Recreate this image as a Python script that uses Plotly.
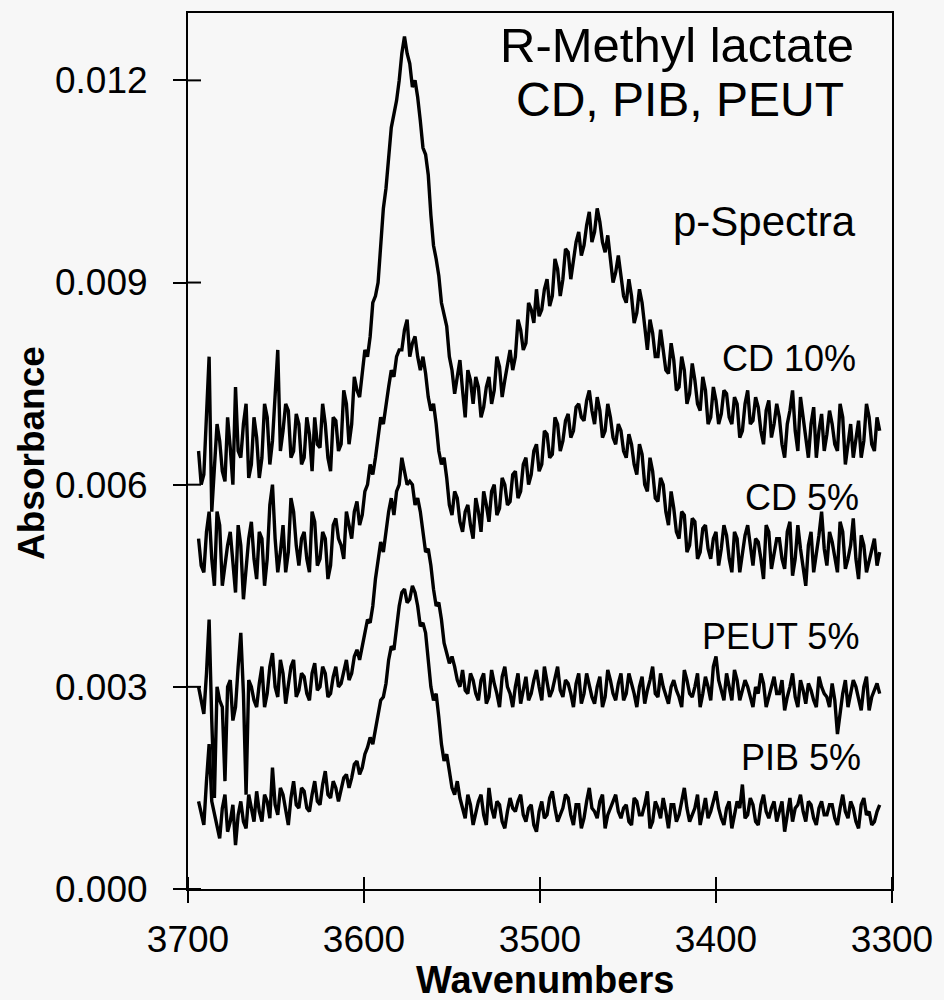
import plotly.graph_objects as go

# Wavenumbers (cm-1): main read-off grid (every 3 cm-1) ...
wavenumbers = [
    3694, 3691, 3688, 3685, 3682, 3679, 3676, 3673, 3670, 3667,
    3664, 3661, 3658, 3655, 3652, 3649, 3646, 3643, 3640, 3637,
    3634, 3631, 3628, 3625, 3622, 3619, 3616, 3613, 3610, 3607,
    3604, 3601, 3598, 3595, 3592, 3589, 3586, 3583, 3580, 3577,
    3574, 3571, 3568, 3565, 3562, 3559, 3556, 3553, 3550, 3547,
    3544, 3541, 3538, 3535, 3532, 3529, 3526, 3523, 3520, 3517,
    3514, 3511, 3508, 3505, 3502, 3499, 3496, 3493, 3490, 3487,
    3484, 3481, 3478, 3475, 3472, 3469, 3466, 3463, 3460, 3457,
    3454, 3451, 3448, 3445, 3442, 3439, 3436, 3433, 3430, 3427,
    3424, 3421, 3418, 3415, 3412, 3409, 3406, 3403, 3400, 3397,
    3394, 3391, 3388, 3385, 3382, 3379, 3376, 3373, 3370, 3367,
    3364, 3361, 3358, 3355, 3352, 3349, 3346, 3343, 3340, 3337,
    3334, 3331, 3328, 3325, 3322, 3319, 3316, 3313, 3310, 3307,
]
# ... and the in-between read-off points
wavenumbers_mid = [
    3692.5, 3689.5, 3686.5, 3683.5, 3680.5, 3677.5, 3674.5, 3671.5, 3668.5, 3665.5,
    3662.5, 3659.5, 3656.5, 3653.5, 3650.5, 3647.5, 3644.5, 3641.5, 3638.5, 3635.5,
    3632.5, 3629.5, 3626.5, 3623.5, 3620.5, 3617.5, 3614.5, 3611.5, 3608.5, 3605.5,
    3602.5, 3599.5, 3596.5, 3593.5, 3590.5, 3587.5, 3584.5, 3581.5, 3578.5, 3575.5,
    3572.5, 3569.5, 3566.5, 3563.5, 3560.5, 3557.5, 3554.5, 3551.5, 3548.5, 3545.5,
    3542.5, 3539.5, 3536.5, 3533.5, 3530.5, 3527.5, 3524.5, 3521.5, 3518.5, 3515.5,
    3512.5, 3509.5, 3506.5, 3503.5, 3500.5, 3497.5, 3494.5, 3491.5, 3488.5, 3485.5,
    3482.5, 3479.5, 3476.5, 3473.5, 3470.5, 3467.5, 3464.5, 3461.5, 3458.5, 3455.5,
    3452.5, 3449.5, 3446.5, 3443.5, 3440.5, 3437.5, 3434.5, 3431.5, 3428.5, 3425.5,
    3422.5, 3419.5, 3416.5, 3413.5, 3410.5, 3407.5, 3404.5, 3401.5, 3398.5, 3395.5,
    3392.5, 3389.5, 3386.5, 3383.5, 3380.5, 3377.5, 3374.5, 3371.5, 3368.5, 3365.5,
    3362.5, 3359.5, 3356.5, 3353.5, 3350.5, 3347.5, 3344.5, 3341.5, 3338.5, 3335.5,
    3332.5, 3329.5, 3326.5, 3323.5, 3320.5, 3317.5, 3314.5, 3311.5, 3308.5,
]

cd10 = [
    0.00650, 0.00615, 0.00790, 0.00630, 0.00665, 0.00605, 0.00655, 0.00745, 0.00640, 0.00720,
    0.00630, 0.00670, 0.00640, 0.00700, 0.00665, 0.00800, 0.00680, 0.00710, 0.00650, 0.00690,
    0.00640, 0.00675, 0.00700, 0.00655, 0.00690, 0.00620, 0.00695, 0.00660, 0.00720, 0.00690,
    0.00740, 0.00770, 0.00790, 0.00870, 0.00900, 0.01010, 0.01080, 0.01150, 0.01200, 0.01265,
    0.01225, 0.01200, 0.01140, 0.01090, 0.01000, 0.00935, 0.00870, 0.00835, 0.00770, 0.00760,
    0.00740, 0.00770, 0.00720, 0.00745, 0.00715, 0.00760, 0.00740, 0.00775, 0.00755, 0.00800,
    0.00790, 0.00830, 0.00810, 0.00860, 0.00890, 0.00860, 0.00905, 0.00880, 0.00920, 0.00905,
    0.00945, 0.00930, 0.00975, 0.00955, 0.01005, 0.00975, 0.00990, 0.00945, 0.00935, 0.00915,
    0.00910, 0.00870, 0.00880, 0.00855, 0.00870, 0.00800, 0.00825, 0.00790, 0.00800, 0.00765,
    0.00785, 0.00745, 0.00770, 0.00735, 0.00755, 0.00710, 0.00740, 0.00700, 0.00725, 0.00705,
    0.00735, 0.00690, 0.00720, 0.00680, 0.00740, 0.00695, 0.00715, 0.00660, 0.00725, 0.00690,
    0.00700, 0.00640, 0.00710, 0.00680, 0.00730, 0.00665, 0.00690, 0.00640, 0.00705, 0.00675,
    0.00690, 0.00650, 0.00700, 0.00660, 0.00640, 0.00695, 0.00665, 0.00700, 0.00650, 0.00680,
]
cd10_mid = [
    0.00600, 0.00700, 0.00560, 0.00690, 0.00620, 0.00700, 0.00600, 0.00650, 0.00690, 0.00610,
    0.00700, 0.00610, 0.00720, 0.00630, 0.00740, 0.00650, 0.00720, 0.00640, 0.00705, 0.00630,
    0.00700, 0.00620, 0.00660, 0.00720, 0.00640, 0.00700, 0.00650, 0.00740, 0.00660, 0.00760,
    0.00730, 0.00800, 0.00820, 0.00880, 0.00960, 0.01040, 0.01130, 0.01170, 0.01240, 0.01240,
    0.01190, 0.01175, 0.01100, 0.01060, 0.00955, 0.00910, 0.00850, 0.00790, 0.00735, 0.00785,
    0.00700, 0.00755, 0.00760, 0.00700, 0.00745, 0.00720, 0.00790, 0.00730, 0.00780, 0.00770,
    0.00845, 0.00800, 0.00870, 0.00840, 0.00850, 0.00890, 0.00865, 0.00935, 0.00880, 0.00950,
    0.00905, 0.00960, 0.00940, 0.00985, 0.00960, 0.01010, 0.00960, 0.00970, 0.00900, 0.00940,
    0.00880, 0.00905, 0.00840, 0.00890, 0.00830, 0.00845, 0.00790, 0.00830, 0.00770, 0.00810,
    0.00740, 0.00790, 0.00720, 0.00780, 0.00720, 0.00760, 0.00690, 0.00745, 0.00690, 0.00740,
    0.00700, 0.00730, 0.00670, 0.00720, 0.00690, 0.00730, 0.00680, 0.00710, 0.00670, 0.00720,
    0.00660, 0.00690, 0.00740, 0.00650, 0.00700, 0.00640, 0.00715, 0.00680, 0.00650, 0.00710,
    0.00660, 0.00720, 0.00630, 0.00690, 0.00670, 0.00640, 0.00720, 0.00660, 0.00700,
]

cd5 = [
    0.00520, 0.00470, 0.00560, 0.00450, 0.00540, 0.00480, 0.00530, 0.00440, 0.00510, 0.00470,
    0.00545, 0.00460, 0.00520, 0.00490, 0.00600, 0.00470, 0.00540, 0.00500, 0.00560, 0.00480,
    0.00530, 0.00470, 0.00545, 0.00490, 0.00520, 0.00480, 0.00550, 0.00510, 0.00560, 0.00520,
    0.00575, 0.00555, 0.00600, 0.00615, 0.00670, 0.00690, 0.00745, 0.00760, 0.00800, 0.00830,
    0.00790, 0.00820, 0.00770, 0.00765, 0.00710, 0.00690, 0.00630, 0.00610, 0.00555, 0.00580,
    0.00530, 0.00570, 0.00520, 0.00560, 0.00590, 0.00545, 0.00600, 0.00565, 0.00600, 0.00575,
    0.00620, 0.00590, 0.00640, 0.00615, 0.00660, 0.00630, 0.00675, 0.00645, 0.00690, 0.00665,
    0.00705, 0.00680, 0.00720, 0.00695, 0.00740, 0.00690, 0.00710, 0.00680, 0.00700, 0.00660,
    0.00680, 0.00640, 0.00660, 0.00615, 0.00645, 0.00590, 0.00620, 0.00575, 0.00600, 0.00540,
    0.00565, 0.00520, 0.00555, 0.00510, 0.00545, 0.00500, 0.00540, 0.00490, 0.00530, 0.00505,
    0.00525, 0.00470, 0.00520, 0.00495, 0.00540, 0.00480, 0.00515, 0.00460, 0.00530, 0.00500,
    0.00520, 0.00475, 0.00545, 0.00490, 0.00505, 0.00450, 0.00530, 0.00495, 0.00560, 0.00480,
    0.00515, 0.00470, 0.00530, 0.00490, 0.00550, 0.00460, 0.00510, 0.00485, 0.00520, 0.00500,
]
cd5_mid = [
    0.00480, 0.00530, 0.00490, 0.00560, 0.00450, 0.00510, 0.00480, 0.00540, 0.00430, 0.00520,
    0.00490, 0.00530, 0.00450, 0.00570, 0.00520, 0.00500, 0.00470, 0.00580, 0.00510, 0.00520,
    0.00490, 0.00560, 0.00480, 0.00530, 0.00460, 0.00540, 0.00520, 0.00490, 0.00540, 0.00560,
    0.00540, 0.00590, 0.00630, 0.00640, 0.00700, 0.00720, 0.00770, 0.00790, 0.00800, 0.00845,
    0.00810, 0.00790, 0.00790, 0.00730, 0.00720, 0.00650, 0.00640, 0.00570, 0.00590, 0.00545,
    0.00560, 0.00540, 0.00580, 0.00530, 0.00570, 0.00590, 0.00555, 0.00610, 0.00570, 0.00615,
    0.00580, 0.00630, 0.00600, 0.00650, 0.00620, 0.00680, 0.00640, 0.00700, 0.00650, 0.00695,
    0.00670, 0.00715, 0.00700, 0.00725, 0.00710, 0.00730, 0.00670, 0.00720, 0.00670, 0.00690,
    0.00650, 0.00675, 0.00630, 0.00660, 0.00600, 0.00640, 0.00580, 0.00610, 0.00560, 0.00590,
    0.00530, 0.00560, 0.00500, 0.00550, 0.00490, 0.00535, 0.00505, 0.00520, 0.00480, 0.00540,
    0.00490, 0.00530, 0.00470, 0.00525, 0.00505, 0.00520, 0.00490, 0.00540, 0.00475, 0.00520,
    0.00490, 0.00530, 0.00465, 0.00540, 0.00480, 0.00510, 0.00470, 0.00525, 0.00505, 0.00530,
    0.00490, 0.00545, 0.00475, 0.00510, 0.00490, 0.00525, 0.00470, 0.00505, 0.00480,
]

peut5 = [
    0.00300, 0.00260, 0.00400, 0.00135, 0.00280, 0.00160, 0.00310, 0.00270, 0.00380, 0.00140,
    0.00300, 0.00270, 0.00330, 0.00290, 0.00350, 0.00285, 0.00320, 0.00300, 0.00340, 0.00295,
    0.00315, 0.00280, 0.00335, 0.00300, 0.00320, 0.00290, 0.00330, 0.00305, 0.00340, 0.00320,
    0.00355, 0.00360, 0.00400, 0.00420, 0.00490, 0.00500, 0.00560, 0.00555, 0.00600, 0.00620,
    0.00605, 0.00570, 0.00560, 0.00500, 0.00480, 0.00420, 0.00400, 0.00350, 0.00345, 0.00310,
    0.00325, 0.00290, 0.00310, 0.00280, 0.00320, 0.00285, 0.00305, 0.00270, 0.00330, 0.00290,
    0.00300, 0.00275, 0.00315, 0.00290, 0.00325, 0.00280, 0.00310, 0.00295, 0.00330, 0.00285,
    0.00305, 0.00270, 0.00320, 0.00290, 0.00300, 0.00275, 0.00315, 0.00285, 0.00310, 0.00280,
    0.00320, 0.00290, 0.00305, 0.00270, 0.00315, 0.00295, 0.00330, 0.00285, 0.00300, 0.00275,
    0.00310, 0.00285, 0.00325, 0.00290, 0.00300, 0.00270, 0.00315, 0.00280, 0.00345, 0.00295,
    0.00320, 0.00280, 0.00310, 0.00295, 0.00300, 0.00270, 0.00290, 0.00305, 0.00285, 0.00315,
    0.00290, 0.00265, 0.00300, 0.00285, 0.00310, 0.00275, 0.00295, 0.00270, 0.00300, 0.00285,
    0.00305, 0.00230, 0.00290, 0.00270, 0.00310, 0.00280, 0.00300, 0.00265, 0.00295, 0.00290,
]
peut5_mid = [
    0.00280, 0.00320, 0.00250, 0.00300, 0.00270, 0.00300, 0.00250, 0.00330, 0.00290, 0.00310,
    0.00280, 0.00305, 0.00270, 0.00330, 0.00300, 0.00340, 0.00275, 0.00330, 0.00285, 0.00320,
    0.00290, 0.00320, 0.00295, 0.00330, 0.00285, 0.00315, 0.00300, 0.00325, 0.00310, 0.00345,
    0.00340, 0.00385, 0.00395, 0.00460, 0.00515, 0.00530, 0.00580, 0.00590, 0.00640, 0.00600,
    0.00600, 0.00580, 0.00525, 0.00505, 0.00445, 0.00425, 0.00365, 0.00335, 0.00330, 0.00300,
    0.00295, 0.00320, 0.00290, 0.00310, 0.00275, 0.00325, 0.00290, 0.00315, 0.00300, 0.00270,
    0.00320, 0.00295, 0.00280, 0.00310, 0.00300, 0.00330, 0.00285, 0.00315, 0.00295, 0.00310,
    0.00290, 0.00305, 0.00275, 0.00320, 0.00285, 0.00300, 0.00270, 0.00325, 0.00290, 0.00305,
    0.00280, 0.00320, 0.00290, 0.00300, 0.00275, 0.00310, 0.00290, 0.00320, 0.00285, 0.00300,
    0.00295, 0.00270, 0.00310, 0.00285, 0.00320, 0.00290, 0.00300, 0.00330, 0.00310, 0.00280,
    0.00300, 0.00325, 0.00280, 0.00310, 0.00285, 0.00300, 0.00320, 0.00270, 0.00300, 0.00290,
    0.00310, 0.00285, 0.00320, 0.00270, 0.00295, 0.00305, 0.00280, 0.00315, 0.00290, 0.00270,
    0.00280, 0.00260, 0.00310, 0.00290, 0.00300, 0.00265, 0.00315, 0.00285, 0.00305,
]

pib5 = [
    0.00130, 0.00095, 0.00215, 0.00110, 0.00075, 0.00140, 0.00100, 0.00065, 0.00130, 0.00090,
    0.00120, 0.00145, 0.00100, 0.00130, 0.00180, 0.00110, 0.00140, 0.00095, 0.00160, 0.00120,
    0.00145, 0.00115, 0.00160, 0.00125, 0.00175, 0.00135, 0.00150, 0.00145, 0.00170, 0.00165,
    0.00190, 0.00180, 0.00210, 0.00215, 0.00260, 0.00285, 0.00340, 0.00355, 0.00420, 0.00445,
    0.00430, 0.00440, 0.00390, 0.00380, 0.00300, 0.00290, 0.00215, 0.00200, 0.00150, 0.00160,
    0.00120, 0.00140, 0.00095, 0.00130, 0.00110, 0.00150, 0.00105, 0.00125, 0.00090, 0.00135,
    0.00115, 0.00140, 0.00100, 0.00125, 0.00085, 0.00130, 0.00110, 0.00145, 0.00100, 0.00120,
    0.00135, 0.00095, 0.00125, 0.00105, 0.00150, 0.00115, 0.00130, 0.00090, 0.00120, 0.00140,
    0.00105, 0.00125, 0.00095, 0.00130, 0.00110, 0.00145, 0.00100, 0.00120, 0.00135, 0.00090,
    0.00125, 0.00110, 0.00150, 0.00100, 0.00120, 0.00095, 0.00135, 0.00115, 0.00145, 0.00105,
    0.00120, 0.00090, 0.00130, 0.00155, 0.00110, 0.00125, 0.00095, 0.00140, 0.00105, 0.00130,
    0.00115, 0.00085, 0.00135, 0.00120, 0.00140, 0.00100, 0.00125, 0.00095, 0.00130, 0.00110,
    0.00125, 0.00095, 0.00140, 0.00105, 0.00120, 0.00090, 0.00135, 0.00115, 0.00100, 0.00125,
]
pib5_mid = [
    0.00110, 0.00160, 0.00130, 0.00090, 0.00120, 0.00085, 0.00125, 0.00110, 0.00100, 0.00140,
    0.00100, 0.00115, 0.00140, 0.00105, 0.00125, 0.00150, 0.00115, 0.00135, 0.00125, 0.00150,
    0.00120, 0.00140, 0.00130, 0.00155, 0.00140, 0.00160, 0.00130, 0.00165, 0.00150, 0.00185,
    0.00170, 0.00200, 0.00225, 0.00235, 0.00280, 0.00305, 0.00360, 0.00385, 0.00440, 0.00425,
    0.00450, 0.00420, 0.00395, 0.00340, 0.00280, 0.00255, 0.00190, 0.00175, 0.00140, 0.00135,
    0.00105, 0.00125, 0.00115, 0.00140, 0.00095, 0.00120, 0.00130, 0.00100, 0.00115, 0.00120,
    0.00130, 0.00110, 0.00120, 0.00095, 0.00115, 0.00105, 0.00135, 0.00120, 0.00110, 0.00140,
    0.00110, 0.00125, 0.00090, 0.00130, 0.00120, 0.00105, 0.00140, 0.00110, 0.00130, 0.00115,
    0.00120, 0.00100, 0.00135, 0.00110, 0.00125, 0.00090, 0.00130, 0.00105, 0.00115, 0.00125,
    0.00100, 0.00130, 0.00120, 0.00110, 0.00140, 0.00115, 0.00105, 0.00130, 0.00120, 0.00095,
    0.00130, 0.00110, 0.00120, 0.00105, 0.00135, 0.00100, 0.00125, 0.00115, 0.00120, 0.00100,
    0.00130, 0.00110, 0.00100, 0.00125, 0.00115, 0.00130, 0.00105, 0.00120, 0.00110, 0.00125,
    0.00105, 0.00120, 0.00115, 0.00130, 0.00100, 0.00125, 0.00110, 0.00095, 0.00115,
]

series_names = ["CD 10%", "CD 5%", "PEUT 5%", "PIB 5%"]
series_values = [(cd10, cd10_mid), (cd5, cd5_mid), (peut5, peut5_mid), (pib5, pib5_mid)]

x_ticks = [3700, 3600, 3500, 3400, 3300]
y_ticks = [0.000, 0.003, 0.006, 0.009, 0.012]
x_range = [3700, 3300]
y_range = [0.0, 0.0130]

FONT = "Liberation Sans, Arial, Helvetica, sans-serif"
BG = "#f7f7f7"

fig = go.Figure()
for name, (main_vals, mid_vals) in zip(series_names, series_values):
    pts = sorted(zip(wavenumbers + wavenumbers_mid, main_vals + mid_vals),
                 key=lambda p: -p[0])
    fig.add_trace(go.Scatter(
        x=[p[0] for p in pts], y=[p[1] for p in pts], mode="lines", name=name,
        line=dict(color="black", width=3.4), showlegend=False,
        hoverinfo="x+y+name",
    ))

fig.update_layout(
    width=944, height=1000,
    margin=dict(l=188, r=52, t=11, b=111),
    paper_bgcolor=BG, plot_bgcolor=BG,
    font=dict(family=FONT, color="black"),
    xaxis=dict(
        range=x_range, tickvals=x_ticks, ticktext=[str(v) for v in x_ticks],
        ticks="outside", ticklen=12, tickwidth=2, tickcolor="black",
        showline=True, linecolor="black", linewidth=2, mirror=True,
        showgrid=False, zeroline=False,
        tickfont=dict(size=37, family=FONT), ticklabelstandoff=5,
    ),
    yaxis=dict(
        range=y_range, tickvals=y_ticks, ticktext=[f"{v:.3f}" for v in y_ticks],
        ticks="outside", ticklen=13, tickwidth=2, tickcolor="black",
        showline=True, linecolor="black", linewidth=2, mirror=True,
        showgrid=False, zeroline=False,
        tickfont=dict(size=37, family=FONT), ticklabelstandoff=18,
    ),
)

# inner halves of the crossing tick marks, one per axis tick value
for xt in x_ticks:
    fig.add_shape(type="line", xref="x", yref="paper", x0=xt, x1=xt,
                  y0=0, y1=12 / 878.0, line=dict(color="black", width=2))
for yt in y_ticks:
    fig.add_shape(type="line", xref="paper", yref="y", x0=0, x1=13 / 704.0,
                  y0=yt, y1=yt, line=dict(color="black", width=2))

def px_x(px):
    return (px - 188) / 704.0

def px_y(py):
    return (889 - py) / 878.0

texts = [
    ("R-Methyl lactate", 856, 43, 49),
    ("CD, PIB, PEUT", 846, 98, 48),
    ("p-Spectra", 858, 220, 42),
    ("CD 10%", 858, 357, 36),
    ("CD 5%", 861, 497, 36),
    ("PEUT 5%", 861, 636, 36),
    ("PIB 5%", 863, 757, 36),
]
for t, xr, yc, fs in texts:
    fig.add_annotation(
        text=t, xref="paper", yref="paper", x=px_x(xr), y=px_y(yc),
        xanchor="right", yanchor="middle", showarrow=False,
        font=dict(size=fs, family=FONT, color="black"),
    )

# axis titles
fig.add_annotation(
    text="<b>Wavenumbers</b>", xref="paper", yref="paper",
    x=px_x(545), y=px_y(980), xanchor="center", yanchor="middle",
    showarrow=False, font=dict(size=38, family=FONT, color="black"),
)
fig.add_annotation(
    text="<b>Absorbance</b>", xref="paper", yref="paper",
    x=px_x(32), y=px_y(452), xanchor="center", yanchor="middle",
    textangle=-90, showarrow=False, font=dict(size=37, family=FONT, color="black"),
)

fig.write_html(
    "out.html",
    config={"displayModeBar": False},
    post_script="document.body.style.margin='0';document.body.style.background='#f7f7f7';",
)
